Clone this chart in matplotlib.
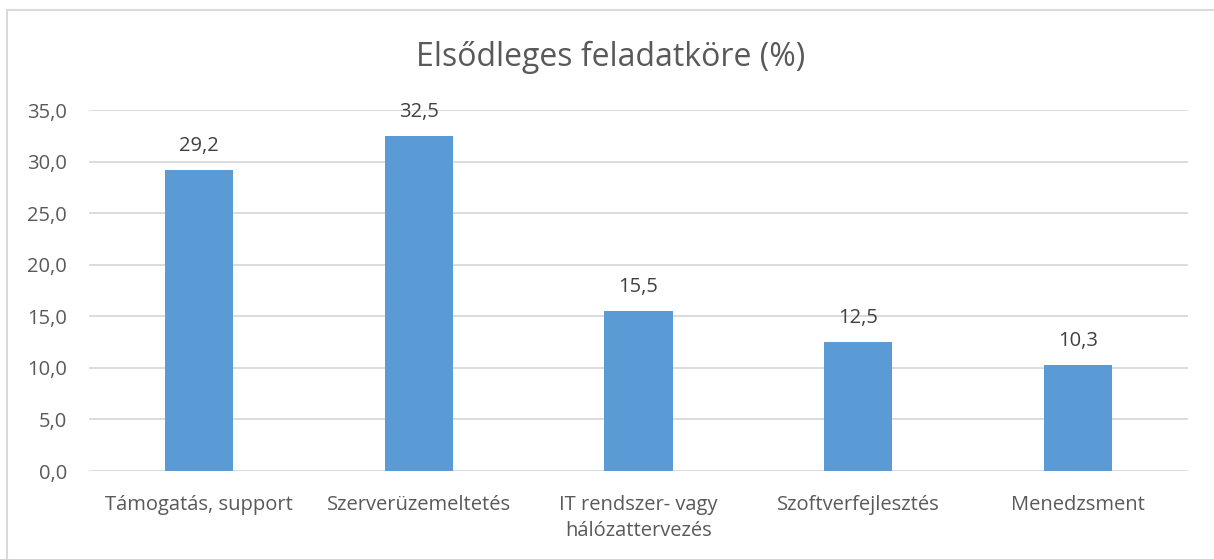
import numpy as np
import matplotlib
matplotlib.use("Agg")
import matplotlib.pyplot as plt
from matplotlib.patches import Rectangle

categories = ["Támogatás, support", "Szerverüzemeltetés", "IT rendszer- vagy\nhálózattervezés",
              "Szoftverfejlesztés", "Menedzsment"]
values = [29.2, 32.5, 15.5, 12.5, 10.3]
yticks = [0, 5, 10, 15, 20, 25, 30, 35]

text_color = "#595959"
bar_color = "#5B9BD5"
grid_color = "#D9D9D9"

plt.rcParams['font.family'] = ['Open Sans', 'DejaVu Sans']

fig = plt.figure(figsize=(12.14, 5.59), dpi=100)
# chart border
fig.patches.append(Rectangle((7 / 1214, -0.1), 1.2, 1 - 10 / 559 + 0.1, transform=fig.transFigure,
                             fill=False, edgecolor=grid_color, linewidth=1.5))

ax = fig.add_axes([89 / 1214, 1 - 471 / 559, (1188 - 89) / 1214, (471 - 110) / 559])
x = np.arange(len(categories))
bars = ax.bar(x, values, width=0.31, color=bar_color, zorder=3)

for b, v in zip(bars, values):
    ax.annotate(f"{v:.1f}".replace(".", ","), (b.get_x() + b.get_width() / 2, v),
                xytext=(0, 10), textcoords="offset points", ha="center", va="bottom",
                fontsize=14.5, color="#404040")

ax.set_xlim(-0.5, len(categories) - 0.5)
ax.set_ylim(0, 35)
ax.set_yticks(yticks)
ax.set_yticklabels([f"{t:.1f}".replace(".", ",") for t in yticks])
ax.set_xticks(x)
ax.set_xticklabels(categories, linespacing=1.45)
ax.tick_params(axis="both", length=0, labelsize=14.5, labelcolor=text_color)
ax.tick_params(axis="y", pad=16)
ax.tick_params(axis="x", pad=17)
ax.grid(axis="y", color=grid_color, linewidth=1.3, zorder=0)
for s in ax.spines.values():
    s.set_visible(False)

fig.text(611 / 1214, 1 - 57 / 559, "Elsődleges feladatköre (%)", ha="center", va="center",
         fontsize=23, color=text_color)

fig.savefig("out.png", dpi=100)
